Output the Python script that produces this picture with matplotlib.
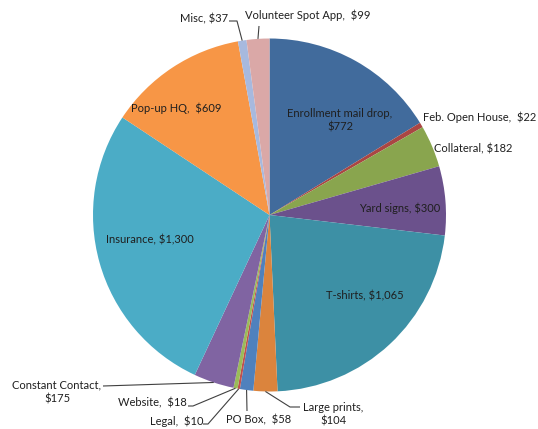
import numpy as np
import matplotlib
matplotlib.use("Agg")
import matplotlib.pyplot as plt

# data (clockwise from 12 o'clock)
labels = ["Enrollment mail drop", "Feb. Open House", "Collateral", "Yard signs",
          "T-shirts", "Large prints", "PO Box", "Legal", "Website",
          "Constant Contact", "Insurance", "Pop-up HQ", "Misc", "Volunteer Spot App"]
values = [772, 22, 182, 300, 1065, 104, 58, 10, 18, 175, 1300, 609, 37, 99]
colors = ["#416B9C", "#AA4643", "#89A54E", "#6B518C", "#3D90A5", "#DB843D",
          "#4F81BD", "#C0504D", "#9BBB59", "#8064A2", "#4BACC6", "#F79646",
          "#A7B9DE", "#DAA8A7"]

W, H = 538, 429
CX, CY, R = 269.5, 429 - 215, 176.5

plt.rcParams["font.family"] = ["Lato", "DejaVu Sans"]
fig = plt.figure(figsize=(W / 100, H / 100), dpi=100)
ax = fig.add_axes([0, 0, 1, 1])
wedges, _ = ax.pie(values, colors=colors, startangle=90, counterclock=False,
                   center=(CX, CY), radius=R,
                   wedgeprops=dict(linewidth=0))
ax.set_xlim(0, W)
ax.set_ylim(0, H)
ax.set_aspect("equal")
ax.axis("off")

total = float(sum(values))
cum = np.cumsum([0] + values)
mids = {lab: (cum[i] + values[i] / 2) / total * 360 for i, lab in enumerate(labels)}


def edge(lab):
    th = np.radians(mids[lab])
    return CX + R * np.sin(th), CY + R * np.cos(th)


def fmt(v):
    return f"${v:,}"


vals = dict(zip(labels, values))
tc = "#1f1f1f"
fs = 8


def txt(x, y, s, ha="center"):
    # x, y in image pixels (y from top)
    ax.text(x, H - y, s, ha=ha, va="center", fontsize=fs, color=tc, linespacing=1.25)


def leader(pts, lab):
    ex, ey = edge(lab)
    xs = [p[0] for p in pts] + [ex]
    ys = [H - p[1] for p in pts] + [ey]
    ax.plot(xs, ys, color="#404040", lw=0.8, solid_capstyle="butt")


# inside labels
txt(340, 120, f"Enrollment mail drop,\n{fmt(vals['Enrollment mail drop'])}")
txt(434, 149, f"Collateral, {fmt(vals['Collateral'])}", ha="left")
txt(400, 208, f"Yard signs, {fmt(vals['Yard signs'])}")
txt(365, 296, f"T-shirts, {fmt(vals['T-shirts'])}")
txt(150, 240, f"Insurance, {fmt(vals['Insurance'])}")
txt(176, 108, f"Pop-up HQ,  {fmt(vals['Pop-up HQ'])}")

# outside labels
txt(423, 117, f"Feb. Open House,  {fmt(vals['Feb. Open House'])}", ha="left")

txt(228, 19, f"Misc, {fmt(vals['Misc'])}", ha="right")
leader([(229, 21), (237, 21)], "Misc")

txt(245, 15, f"Volunteer Spot App,  {fmt(vals['Volunteer Spot App'])}", ha="left")
leader([(259, 26)], "Volunteer Spot App")

txt(333, 414, f"Large prints,\n{fmt(vals['Large prints'])}")
leader([(300, 407), (290, 407)], "Large prints")

txt(259, 420, f"PO Box,  {fmt(vals['PO Box'])}")
leader([(247, 411)], "PO Box")

txt(203, 421, f"Legal,  {fmt(vals['Legal'])}", ha="right")
leader([(203, 424), (208, 424)], "Legal")

txt(187, 403, f"Website,  {fmt(vals['Website'])}", ha="right")
leader([(188, 406), (193, 406)], "Website")

txt(57, 392, f"Constant Contact,\n{fmt(vals['Constant Contact'])}")
leader([(103, 386)], "Constant Contact")

fig.savefig("out.png", dpi=100)
